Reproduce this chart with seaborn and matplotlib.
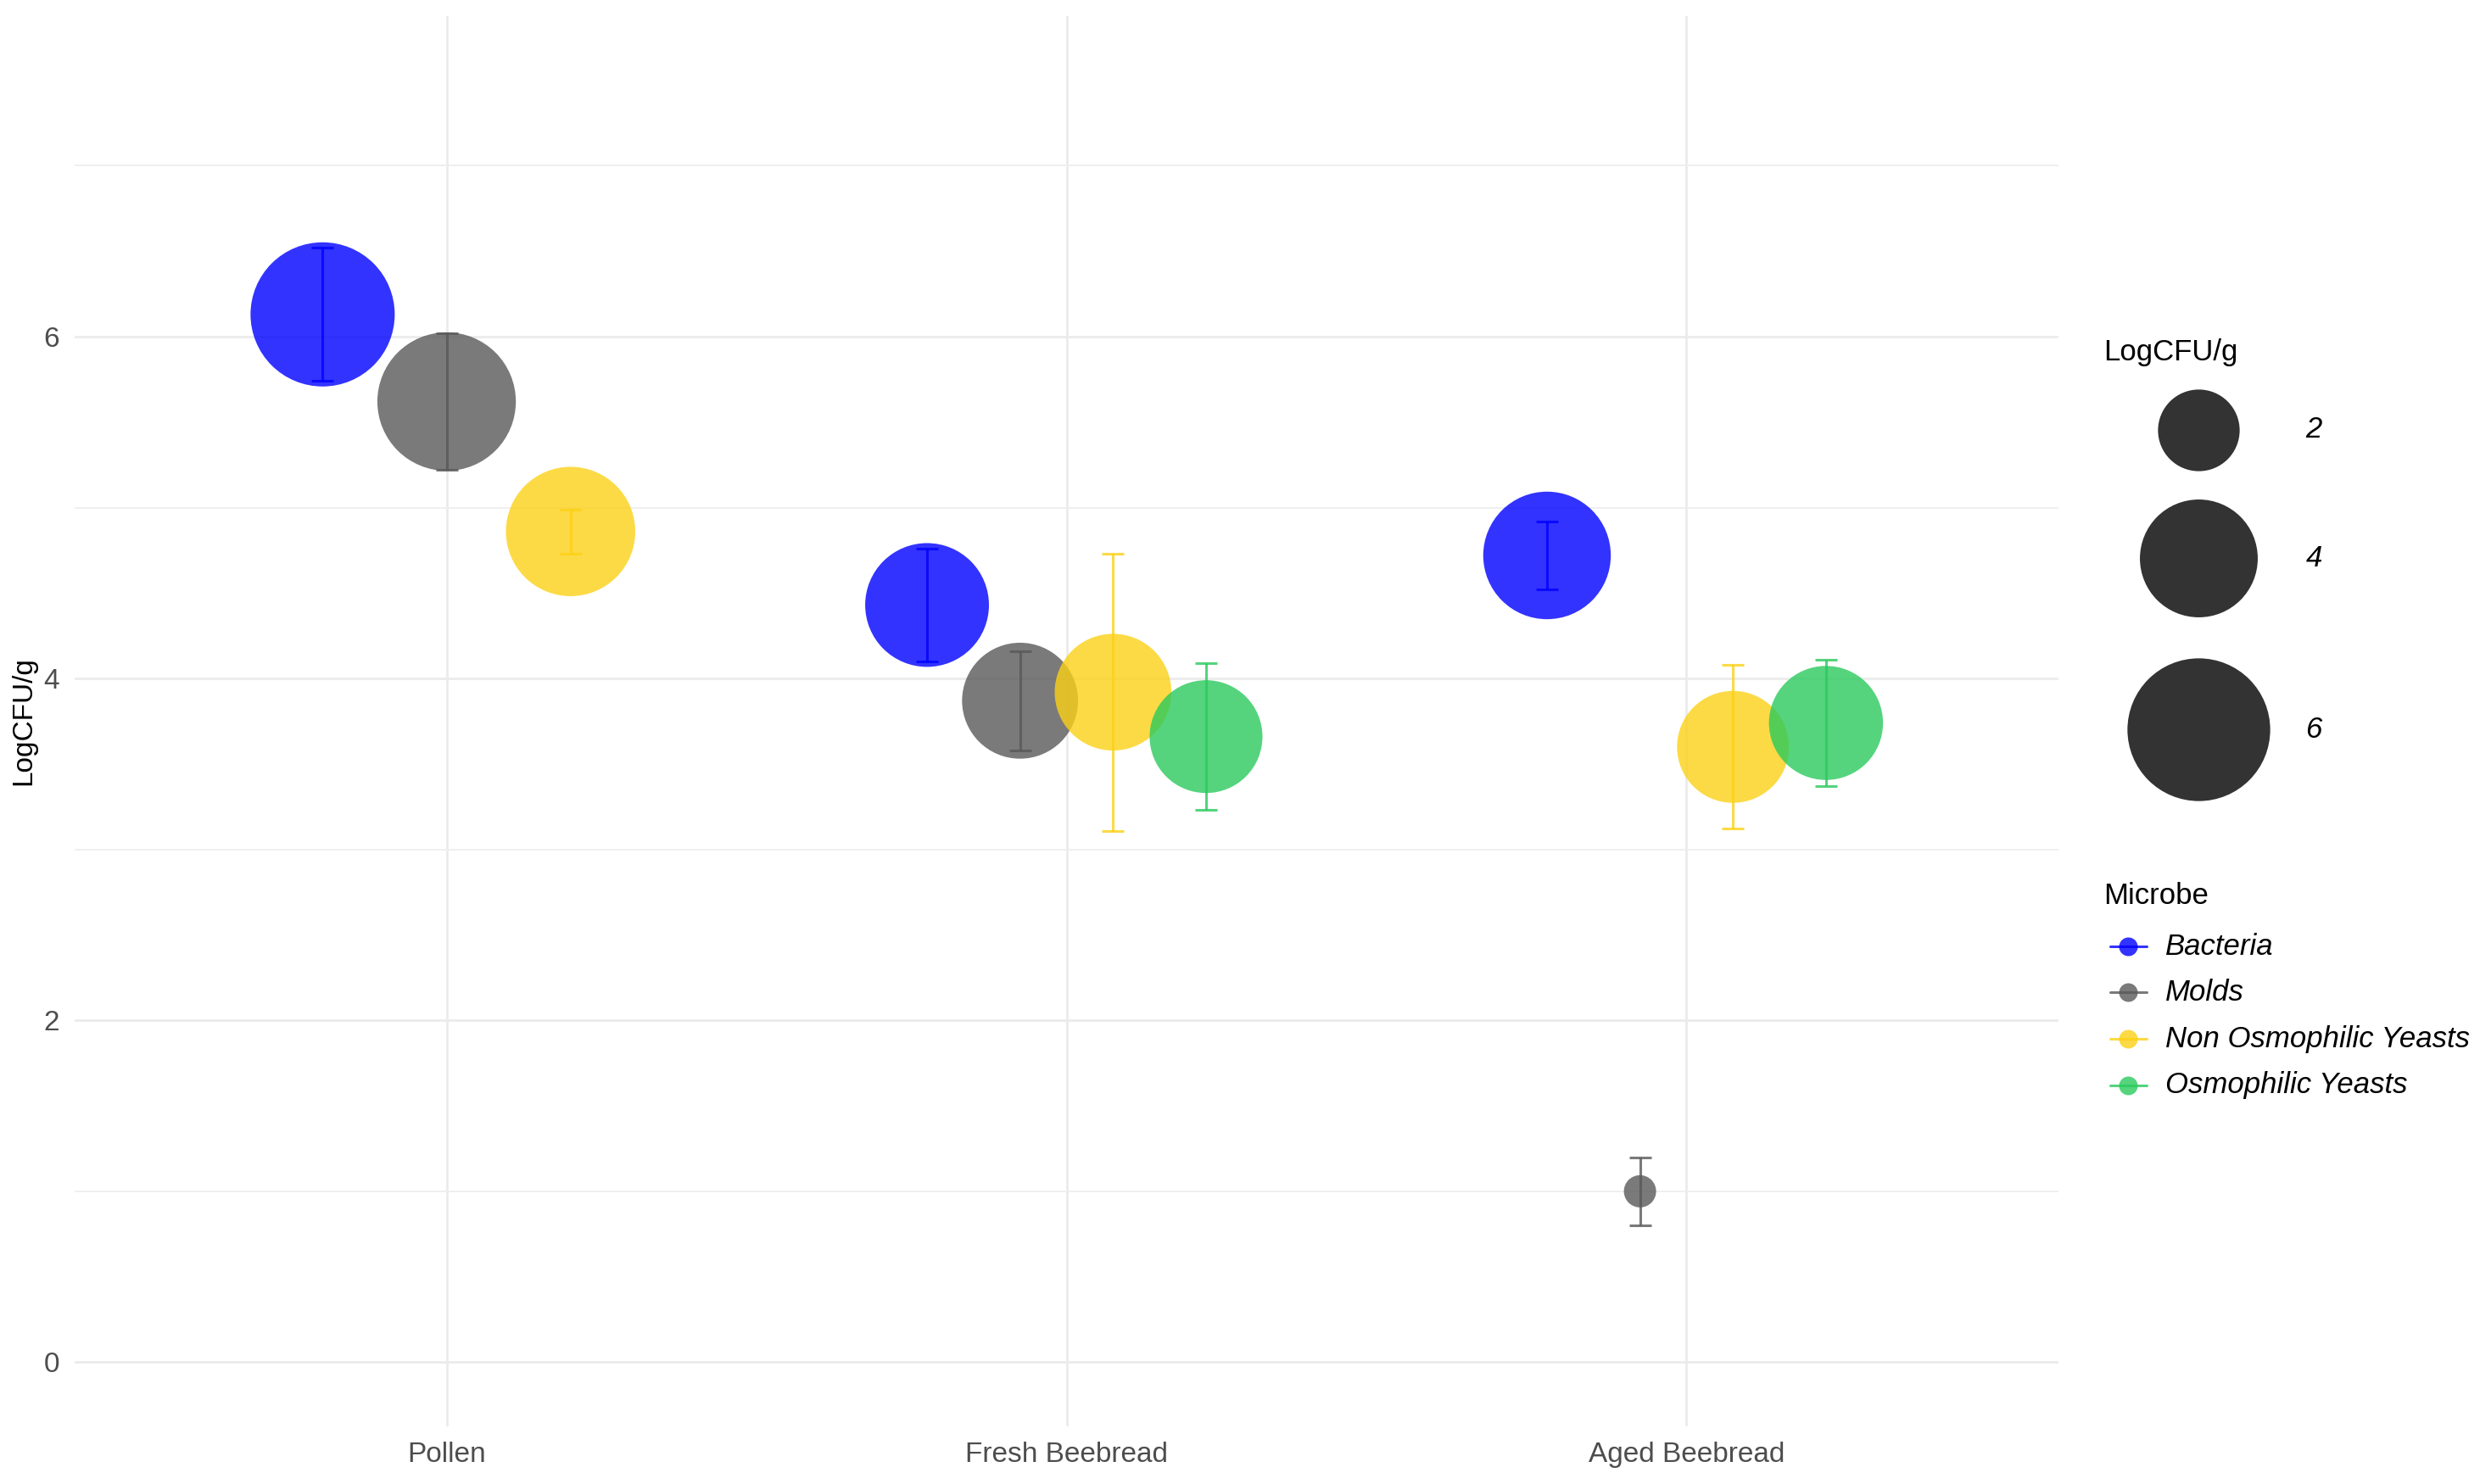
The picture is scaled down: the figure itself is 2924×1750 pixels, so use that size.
import numpy as np
import pandas as pd
import matplotlib
matplotlib.use("Agg")
import matplotlib.pyplot as plt
from matplotlib.ticker import FixedLocator
import seaborn as sns

# ---------------- data ----------------
sources = ["Pollen", "Fresh Beebread", "Aged Beebread"]
microbes = ["Bacteria", "Molds", "Non Osmophilic Yeasts", "Osmophilic Yeasts"]
colors = ["#0000FF", "#595959", "#FCD116", "#2ACA5C"]

row_source = ["Pollen"] * 3 + ["Fresh Beebread"] * 4 + ["Aged Beebread"] * 4
row_microbe = ["Bacteria", "Molds", "Non Osmophilic Yeasts",
               "Bacteria", "Molds", "Non Osmophilic Yeasts", "Osmophilic Yeasts",
               "Bacteria", "Molds", "Non Osmophilic Yeasts", "Osmophilic Yeasts"]
log_mean = [6.13, 5.62, 4.86, 4.43, 3.87, 3.92, 3.66, 4.72, 1.00, 3.60, 3.74]
log_sd = [0.39, 0.40, 0.13, 0.33, 0.29, 0.81, 0.43, 0.20, 0.20, 0.48, 0.37]
size_breaks = [2, 4, 6]

# ---------------- setup ----------------
W, H, DPI = 2924, 1750, 200
PX2PT = 72.0 / DPI
sns.set_style("white")
plt.rcParams["font.family"] = ["Liberation Sans", "DejaVu Sans"]

df = pd.DataFrame({"Source": row_source, "Microbe": row_microbe,
                   "LogCFU": log_mean, "SD": log_sd})

# dodge (ggplot position_dodge(width = 0.6))
dodge_w = 0.6
xpos = []
for s, grp in df.groupby("Source", sort=False):
    n = len(grp)
    for i in range(n):
        xpos.append(sources.index(s) + (i - (n - 1) / 2) * dodge_w / n)
df["x"] = xpos

# size scale (area palette similar to ggplot scale_size)
vmin, vmax = min(log_mean), max(log_mean)
dmin_px, dmax_px = 38, 170


def area(v):
    t = np.clip((v - vmin) / (vmax - vmin), 0, 1)
    d = (dmin_px + (dmax_px - dmin_px) * np.sqrt(t)) * PX2PT
    return d * d


size_dict = {v: area(v) for v in df["LogCFU"].unique()}

fig = plt.figure(figsize=(W / DPI, H / DPI), dpi=DPI)
ax = fig.add_axes([88 / W, 1 - 1682 / H, (2427 - 88) / W, (1682 - 19) / H])

sns.scatterplot(data=df, x="x", y="LogCFU", hue="Microbe", hue_order=microbes,
                palette=colors, size="LogCFU", sizes=size_dict, alpha=0.8,
                linewidth=0, legend=False, ax=ax, zorder=3)

for m, c in zip(microbes, colors):
    sub = df[df["Microbe"] == m]
    ax.errorbar(sub["x"], sub["LogCFU"], yerr=sub["SD"], fmt="none",
                ecolor=c, elinewidth=1.1, capsize=4.6, capthick=1.1,
                alpha=0.8, zorder=4)

ax.set_xlim(-0.6, 2.6)
ax.set_ylim(-0.375, 7.875)
ax.set_xticks(range(len(sources)))
ax.set_xticklabels(sources)
ax.set_yticks([0, 2, 4, 6])
ax.yaxis.set_minor_locator(FixedLocator([1, 3, 5, 7]))
ax.set_xlabel("")
ax.set_ylabel("")
for sp in ax.spines.values():
    sp.set_visible(False)
ax.grid(True, which="major", color="#EBEBEB", linewidth=1.0, zorder=0)
ax.grid(True, which="minor", axis="y", color="#EFEFEF", linewidth=0.7, zorder=0)
ax.set_axisbelow(True)
ax.tick_params(axis="both", which="both", length=0, labelsize=12,
               labelcolor="#4D4D4D")
ax.tick_params(axis="y", pad=6.5)
ax.tick_params(axis="x", pad=6.5)

fig.text(28 / W, 1 - 850 / H, "LogCFU/g", rotation=90, ha="center",
         va="center", fontsize=12, color="black")

# ---------------- legends (drawn in pixel space) ----------------
lax = fig.add_axes([0, 0, 1, 1], facecolor="none")
lax.set_xlim(0, W)
lax.set_ylim(H, 0)
lax.axis("off")

lax.text(2480, 416, "LogCFU/g", ha="left", va="center", fontsize=12.5,
         color="black")
size_rows = [507, 658, 860]
for b, yy in zip(size_breaks, size_rows):
    lax.scatter([2592], [yy], s=area(b), color="black", alpha=0.8,
                linewidth=0)
    lax.text(2728, yy, str(b), ha="center", va="center", fontsize=12.5,
             style="italic", color="black")

lax.text(2480, 1057, "Microbe", ha="left", va="center", fontsize=12.5,
         color="black")
mic_rows = [1116, 1170, 1225, 1280]
for m, c, yy in zip(microbes, colors, mic_rows):
    lax.plot([2488, 2531], [yy, yy], color=c, lw=1.1, alpha=0.8)
    lax.plot([2509], [yy], marker="o", markersize=22 * PX2PT, color=c,
             alpha=0.8, markeredgewidth=0)
    lax.text(2553, yy, m, ha="left", va="center", fontsize=12.5,
             style="italic", color="black")

fig.savefig("out.png", dpi=DPI, facecolor="white")
